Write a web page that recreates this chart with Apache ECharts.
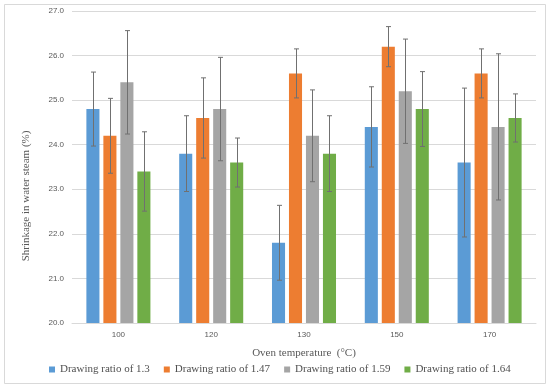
<!DOCTYPE html>
<html>
<head>
<meta charset="utf-8">
<script src="https://cdn.jsdelivr.net/npm/echarts@6/dist/echarts.min.js"></script>
<style>html,body{margin:0;padding:0;background:#fff;}#c{width:550px;height:390px;}</style>
</head>
<body>
<div id="c"></div>
<script>
var categories = ['100', '120', '130', '150', '170'];
var seriesNames = ['Drawing ratio of 1.3', 'Drawing ratio of 1.47', 'Drawing ratio of 1.59', 'Drawing ratio of 1.64'];
var ratio13 = [24.8, 23.8, 21.8, 24.4, 23.6];
var ratio147 = [24.2, 24.6, 25.6, 26.2, 25.6];
var ratio159 = [25.4, 24.8, 24.2, 25.2, 24.4];
var ratio164 = [23.4, 23.6, 23.8, 24.8, 24.6];
var err13 = [0.83, 0.85, 0.84, 0.90, 1.67];
var err147 = [0.84, 0.90, 0.55, 0.45, 0.55];
var err159 = [1.16, 1.16, 1.03, 1.17, 1.64];
var err164 = [0.89, 0.55, 0.85, 0.84, 0.54];
var yTicks = [20, 21, 22, 23, 24, 25, 26, 27];

var values = [ratio13, ratio147, ratio159, ratio164];
var errors = [err13, err147, err159, err164];
var colors = ['#5B9BD5', '#ED7D31', '#A5A5A5', '#70AD47'];
var CAT_GAP = 0.31, BAR_GAP = 0.30, N = 4;

var chart = echarts.init(document.getElementById('c'), null, {renderer: 'canvas'});
var series = [];
values.forEach(function (vals, i) {
  series.push({
    name: seriesNames[i], type: 'bar', data: vals,
    barCategoryGap: (CAT_GAP * 100) + '%', barGap: (BAR_GAP * 100) + '%',
    itemStyle: {color: colors[i]}, z: 2
  });
});
errors.forEach(function (errs, i) {
  series.push({
    type: 'custom', name: seriesNames[i] + ' err', z: 5, silent: true,
    data: categories.map(function (c, k) { return [k, values[i][k] - errs[k], values[i][k] + errs[k]]; }),
    encode: {x: 0, y: [1, 2]},
    renderItem: function (params, api) {
      var k = api.value(0);
      var lo = api.coord([k, api.value(1)]);
      var hi = api.coord([k, api.value(2)]);
      var band = api.size([1, 0])[0];
      var usable = band * (1 - CAT_GAP);
      var bw = usable / (N + (N - 1) * BAR_GAP);
      var x = lo[0] - usable / 2 + i * bw * (1 + BAR_GAP) + bw / 2;
      x = Math.round(x) + 0.5;
      var cap = 2.5;
      var st = {stroke: '#707070', lineWidth: 1};
      return {type: 'group', children: [
        {type: 'line', shape: {x1: x, y1: hi[1], x2: x, y2: lo[1]}, style: st},
        {type: 'line', shape: {x1: x - cap, y1: hi[1], x2: x + cap, y2: hi[1]}, style: st},
        {type: 'line', shape: {x1: x - cap, y1: lo[1], x2: x + cap, y2: lo[1]}, style: st}
      ]};
    }
  });
});

chart.setOption({
  backgroundColor: '#ffffff',
  animation: false,
  grid: {left: 72, right: 14, top: 11, bottom: 67},
  legend: {
    data: seriesNames, left: 49, top: 364, width: 500, padding: 0, itemWidth: 6, itemHeight: 6, itemGap: 14,
    icon: 'rect',
    textStyle: {fontFamily: 'Liberation Serif', fontSize: 11, color: '#505050'}
  },
  xAxis: {
    type: 'category', data: categories,
    name: 'Oven temperature  (°C)', nameLocation: 'middle', nameGap: 25,
    nameTextStyle: {fontFamily: 'Liberation Serif', fontSize: 11, color: '#595959'},
    axisLine: {lineStyle: {color: '#d9d9d9'}}, axisTick: {show: false},
    axisLabel: {fontFamily: 'Liberation Sans', fontSize: 8, color: '#595959', margin: 8}
  },
  yAxis: {
    type: 'value', min: yTicks[0], max: yTicks[yTicks.length - 1], interval: 1,
    axisLine: {show: false}, axisTick: {show: false},
    splitLine: {lineStyle: {color: '#d9d9d9'}},
    axisLabel: {fontFamily: 'Liberation Sans', fontSize: 8, color: '#595959', margin: 8,
      formatter: function (v) { return v.toFixed(1); }}
  },
  graphic: [
    {type: 'rect', shape: {x: 4.5, y: 4.5, width: 541, height: 379}, style: {fill: 'none', stroke: '#d9d9d9', lineWidth: 1}, z: -1, silent: true},
    {type: 'text', x: 26, y: 196, rotation: Math.PI / 2,
      style: {text: 'Shrinkage in water steam (%)', fontFamily: 'Liberation Serif', fontSize: 11, fill: '#595959', align: 'center', verticalAlign: 'middle'}}
  ],
  series: series
});
</script>
</body>
</html>
